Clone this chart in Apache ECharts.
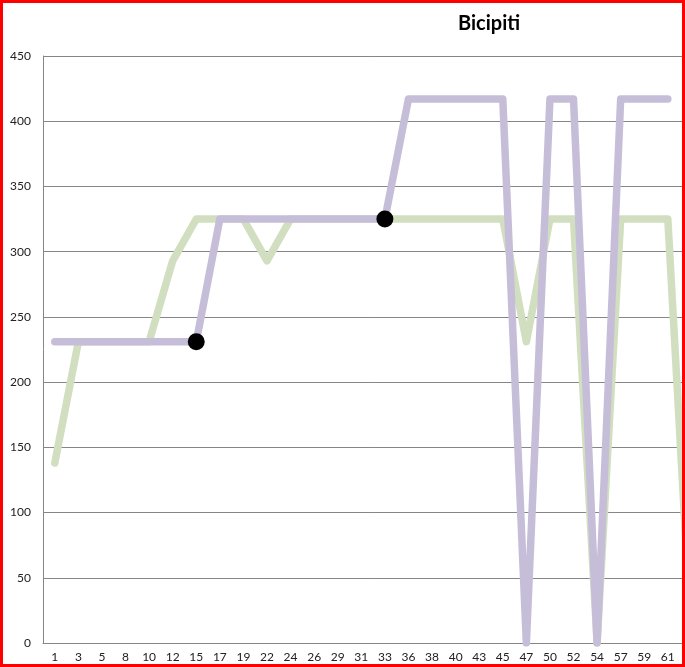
<!DOCTYPE html>
<html>
<head>
<meta charset="utf-8">
<script src="https://cdn.jsdelivr.net/npm/echarts@6/dist/echarts.min.js"></script>
<style>
html,body{margin:0;padding:0;background:#fff;overflow:hidden;}
#wrap{width:685px;height:667px;overflow:hidden;position:relative;}
#chart{width:720px;height:667px;position:absolute;left:0;top:0;}
#border{position:absolute;left:0;top:0;width:685px;height:667px;box-sizing:border-box;border:3px solid #FF0000;pointer-events:none;}
</style>
</head>
<body>
<div id="wrap"><div id="chart"></div><div id="border"></div></div>
<script>
var categories = ['1','3','5','8','10','12','15','17','19','22','24','26','29','31','33','36','38','40','43','45','47','50','52','54','57','59','61','64'];
var greenValues = [138,231,231,231,231,293,325,325,325,293,325,325,325,325,325,325,325,325,325,325,231,325,325,0,325,325,325,0];
var purpleValues = [231,231,231,231,231,231,231,325,325,325,325,325,325,325,325,417,417,417,417,417,0,417,417,0,417,417,417,null];
var markerCats = ['15','33'];
var yTicks = {min:0, max:450, interval:50};

var markerData = markerCats.map(function(c){
  return [c, purpleValues[categories.indexOf(c)]];
});

var chart = echarts.init(document.getElementById('chart'));
chart.setOption({
  animation:false,
  backgroundColor:'#fff',
  grid:{left:43, top:56, bottom:24, right:16.8, containLabel:false},
  xAxis:{
    type:'category',
    data:categories,
    boundaryGap:true,
    axisLine:{show:true, lineStyle:{color:'#868686', width:1}},
    axisTick:{show:false},
    axisLabel:{interval:0, color:'#222', fontFamily:'Lato', fontSize:12, margin:8}
  },
  yAxis:{
    type:'value',
    min:yTicks.min, max:yTicks.max, interval:yTicks.interval,
    axisLine:{show:true, lineStyle:{color:'#868686', width:1}},
    axisTick:{show:false},
    splitLine:{show:true, lineStyle:{color:'#868686', width:1}},
    axisLabel:{color:'#222', fontFamily:'Lato', fontSize:12, margin:12}
  },
  series:[
    {type:'line', data:greenValues, showSymbol:false, symbol:'none', z:2,
     lineStyle:{color:'#D2DEC0', width:7.5, cap:'round', join:'round'}},
    {type:'line', data:purpleValues, showSymbol:false, symbol:'none', z:3,
     lineStyle:{color:'#C6BED8', width:7.5, cap:'round', join:'round'}},
    {type:'scatter', data:markerData, symbol:'circle', symbolSize:17, z:4,
     itemStyle:{color:'#000', opacity:1}}
  ],
  graphic:[
    {type:'text', left:458, top:14, z:10,
     style:{text:'Bicipiti', fontFamily:'Lato', fontWeight:'bold', fontSize:20, fill:'#000'}}
  ]
});
</script>
</body>
</html>
